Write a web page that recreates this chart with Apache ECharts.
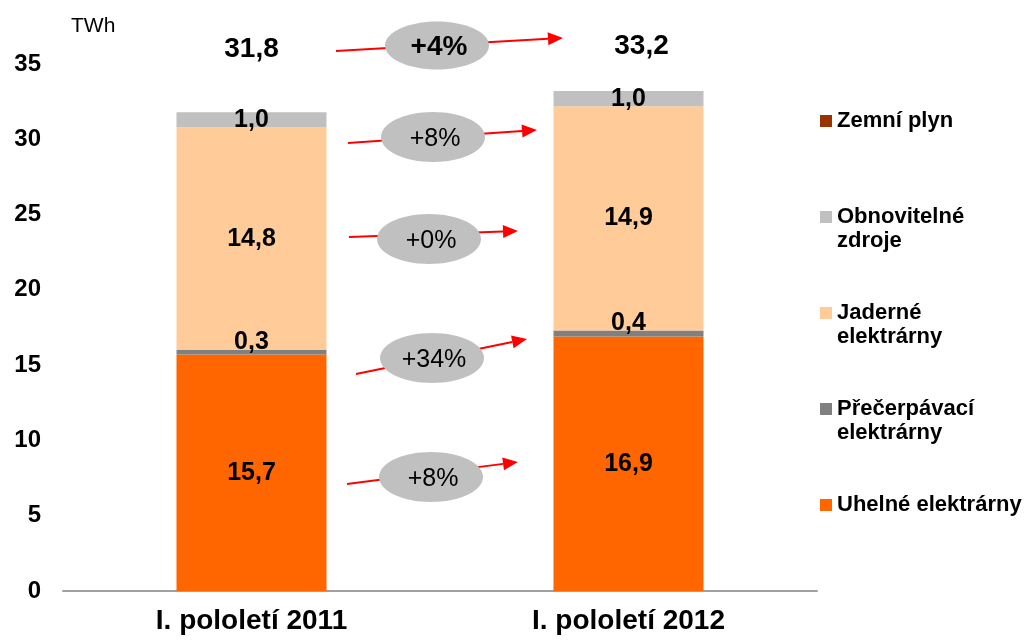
<!DOCTYPE html>
<html>
<head>
<meta charset="utf-8">
<script src="https://cdn.jsdelivr.net/npm/echarts@6/dist/echarts.min.js"></script>
<style>
html,body{margin:0;padding:0;background:#fff}
#chart{width:1026px;height:640px}
</style>
</head>
<body>
<div id="chart"></div>
<script>
// kategorie a hodnoty (TWh)
const categories = ['I. pololetí 2011', 'I. pololetí 2012']
const uhelne = [15.7, 16.9]
const precerpavaci = [0.3, 0.4]
const jaderne = [14.8, 14.9]
const obnovitelne = [1.0, 1.0]
const zemniPlyn = [0, 0]
// osa y: min, max, krok
const yMin = 0
const yMax = 35
const yStep = 5
// meziroční změny, shora dolů
const changes = ['+4%', '+8%', '+0%', '+34%', '+8%']

// legenda (pořadí shora) a zalomení textu
const legendOrder = ['Zemní plyn', 'Obnovitelné zdroje', 'Jaderné elektrárny', 'Přečerpávací elektrárny', 'Uhelné elektrárny']
const legendText = {
    'Zemní plyn': 'Zemní plyn',
    'Obnovitelné zdroje': 'Obnovitelné\nzdroje',
    'Jaderné elektrárny': 'Jaderné\nelektrárny',
    'Přečerpávací elektrárny': 'Přečerpávací\nelektrárny',
    'Uhelné elektrárny': 'Uhelné elektrárny'
}

// rozložení popisků a šipek (ne data)
const TOTAL_Y = 36.1
const totalOffsets = [[0, 2], [13, -1]]
// [dx začátku, y začátku, dx konce, y konce], dx od středu mezi sloupci
const arrowLayout = [
    [-104, 35.86, 123, 36.73],
    [-92, 29.75, 97, 30.62],
    [-91, 23.51, 78, 23.91],
    [-84, 14.41, 87, 16.74],
    [-93, 7.11, 78, 8.57]
]
// [dx, y] středu elipsy
const ellipseLayout = [[-3, 36.23], [-7, 30.15], [-11, 23.38], [-8, 15.47], [-9, 7.57]]

const FONT = "'Liberation Sans', Arial, sans-serif"
const fmt = v => v.toFixed(1).replace('.', ',')

function valueLabel(extra){
    return Object.assign({
        show: true,
        position: 'inside',
        color: '#000',
        fontWeight: 'bold',
        fontSize: 25,
        fontFamily: FONT,
        formatter: p => fmt(p.value)
    }, extra || {})
}

const totals = categories.map((c, i) =>
    uhelne[i] + precerpavaci[i] + jaderne[i] + obnovitelne[i] + zemniPlyn[i])

let option = {
    animation: false,
    backgroundColor: '#fff',
    textStyle: { fontFamily: FONT },
    grid: {
        left: 63,
        right: 209,
        top: 64,
        bottom: 49,
        containLabel: false,
        outerBoundsMode: 'none'
    },
    legend: {
        orient: 'vertical',
        left: 820,
        top: 85,
        padding: 0,
        itemWidth: 12,
        itemHeight: 12,
        itemGap: 24,
        icon: 'rect',
        selectedMode: false,
        data: legendOrder,
        textStyle: {
            fontSize: 22,
            fontWeight: 'bold',
            color: '#000',
            lineHeight: 24,
            fontFamily: FONT
        },
        formatter: name => {
            let lines = legendText[name].split('\n')
            return ' \n' + lines[0] + '\n' + (lines[1] || ' ')
        }
    },
    xAxis: {
        type: 'category',
        data: categories,
        axisLine: { lineStyle: { color: '#a0a0a0', width: 2 } },
        axisTick: { show: false },
        axisLabel: {
            fontSize: 28,
            fontWeight: 'bold',
            color: '#000',
            margin: 16,
            fontFamily: FONT
        }
    },
    yAxis: {
        type: 'value',
        min: yMin,
        max: yMax,
        interval: yStep,
        name: 'TWh',
        nameLocation: 'end',
        nameGap: 27,
        nameTextStyle: {
            fontSize: 21,
            color: '#000',
            align: 'left',
            padding: [0, 0, 0, 8],
            fontFamily: FONT
        },
        axisLine: { show: false },
        axisTick: { show: false },
        splitLine: { show: false },
        axisLabel: {
            fontSize: 24,
            fontWeight: 'bold',
            color: '#000',
            margin: 22,
            fontFamily: FONT
        }
    },
    series: [
        {
            name: 'Uhelné elektrárny',
            type: 'bar',
            stack: 'total',
            barWidth: 150,
            itemStyle: { color: '#FF6600' },
            label: valueLabel(),
            data: uhelne
        },
        {
            name: 'Přečerpávací elektrárny',
            type: 'bar',
            stack: 'total',
            barWidth: 150,
            itemStyle: { color: '#808080' },
            label: valueLabel({ position: 'top', distance: -5 }),
            data: precerpavaci
        },
        {
            name: 'Jaderné elektrárny',
            type: 'bar',
            stack: 'total',
            barWidth: 150,
            itemStyle: { color: '#FFCC99' },
            label: valueLabel(),
            data: jaderne
        },
        {
            name: 'Obnovitelné zdroje',
            type: 'bar',
            stack: 'total',
            barWidth: 150,
            itemStyle: { color: '#C0C0C0' },
            label: valueLabel(),
            data: obnovitelne
        },
        {
            name: 'Zemní plyn',
            type: 'bar',
            stack: 'total',
            barWidth: 150,
            itemStyle: { color: '#993300' },
            data: zemniPlyn
        },
        {
            // součty nad sloupci
            name: 'Celkem',
            type: 'scatter',
            clip: false,
            silent: true,
            symbolSize: 1,
            itemStyle: { color: 'rgba(0,0,0,0)', opacity: 1 },
            label: {
                show: true,
                position: 'inside',
                color: '#000',
                fontWeight: 'bold',
                fontSize: 28,
                fontFamily: FONT,
                formatter: p => fmt(totals[p.dataIndex])
            },
            data: categories.map((c, i) => ({
                value: [i, TOTAL_Y],
                label: { offset: totalOffsets[i] }
            }))
        }
    ]
}

let chart = echarts.init(document.querySelector('#chart'))
chart.setOption(option)

// šipky a elipsy se změnami
function drawChanges(){
    let p0 = chart.convertToPixel({ gridIndex: 0 }, [0, 0])
    let p1 = chart.convertToPixel({ gridIndex: 0 }, [1, 0])
    let mid = (p0[0] + p1[0]) / 2
    let toY = v => chart.convertToPixel({ yAxisIndex: 0 }, v)
    let elements = []
    for (let i = 0; i < changes.length; i++) {
        let a = arrowLayout[i]
        let x1 = mid + a[0], y1 = toY(a[1])
        let x2 = mid + a[2], y2 = toY(a[3])
        let len = Math.hypot(x2 - x1, y2 - y1)
        let ux = (x2 - x1) / len, uy = (y2 - y1) / len
        let bx = x2 - ux * 15, by = y2 - uy * 15
        elements.push({
            type: 'line',
            z: 10,
            shape: { x1: x1, y1: y1, x2: bx, y2: by },
            style: { stroke: '#FF0000', lineWidth: 2 }
        })
        elements.push({
            type: 'polygon',
            z: 10,
            shape: { points: [[x2, y2], [bx - uy * 6.5, by + ux * 6.5], [bx + uy * 6.5, by - ux * 6.5]] },
            style: { fill: '#FF0000' }
        })
        let e = ellipseLayout[i]
        let cx = mid + e[0], cy = toY(e[1])
        elements.push({
            type: 'ellipse',
            z: 11,
            shape: { cx: cx, cy: cy, rx: 52, ry: i === 0 ? 24 : 25 },
            style: { fill: '#C0C0C0' }
        })
        elements.push({
            type: 'text',
            z: 12,
            x: cx + 2,
            y: cy + 2,
            style: {
                text: changes[i],
                fontSize: i === 0 ? 28 : 25,
                fontWeight: i === 0 ? 'bold' : 'normal',
                fontFamily: FONT,
                fill: '#000',
                align: 'center',
                verticalAlign: 'middle'
            }
        })
    }
    chart.setOption({ graphic: { elements: elements } })
}
drawChanges()
</script>
</body>
</html>
